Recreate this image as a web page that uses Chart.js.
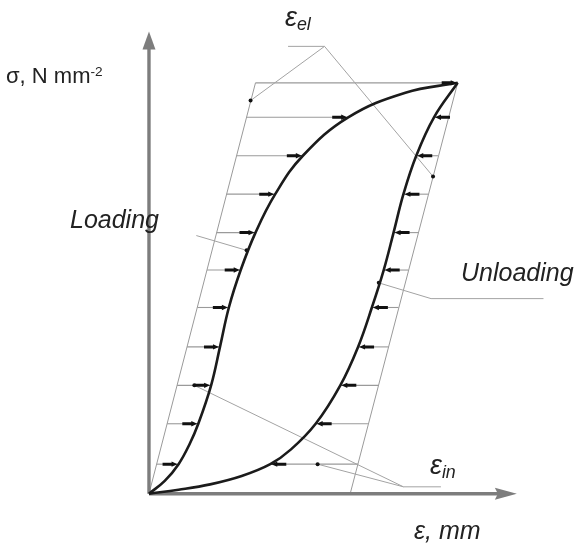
<!DOCTYPE html>
<html>
<head>
<meta charset="utf-8">
<script src="https://cdn.jsdelivr.net/npm/chart.js@4/dist/chart.umd.min.js"></script>
<style>
  html, body { margin: 0; padding: 0; background: #fff; }
  #wrap { position: relative; width: 582px; height: 546px; overflow: hidden; }
  canvas { position: absolute; left: 0; top: 0; }
  .lbl { position: absolute; font-family: "Liberation Sans", Arial, sans-serif; color: #222; white-space: nowrap; line-height: 1; }
  .it { font-style: italic; }
  sup { font-size: 0.62em; vertical-align: 0.55em; line-height: 0; }
  sub { font-size: 0.66em; vertical-align: -0.22em; line-height: 0; }
</style>
</head>
<body>
<div id="wrap">
  <canvas id="c" width="582" height="546"></canvas>
  <div class="lbl" style="left:6px; top:65px; font-size:22px;">σ, N mm<sup>-2</sup></div>
  <div class="lbl it" style="left:285px; top:4px; font-size:27px;">ε<sub>el</sub></div>
  <div class="lbl it" style="left:70px; top:207px; font-size:25px;">Loading</div>
  <div class="lbl it" style="left:461px; top:260px; font-size:25px;">Unloading</div>
  <div class="lbl it" style="left:430px; top:452px; font-size:27px;">ε<sub>in</sub></div>
  <div class="lbl it" style="left:414px; top:518px; font-size:25px;">ε, mm</div>
</div>
<script>
// Stress levels (σ) at which the strain split is marked
const sigmaLevels = [3.0, 7.1, 11.0, 14.9, 18.9, 22.7, 26.5, 30.4, 34.3, 38.2, 41.7];
// Strain on the elastic line through the origin, at each level
const elasticLeft = [0.78, 1.84, 2.85, 3.86, 4.90, 5.88, 6.86, 7.87, 8.88, 9.89, 10.8];
// Strain on the elastic line through the residual strain, at each level
const elasticRight = [21.2, 22.2, 23.3, 24.3, 25.3, 26.3, 27.3, 28.3, 29.3, 30.3, 31.3];
// Loading branch strain at each level
const loadingAtLevel = [3.0, 5.0, 6.3, 7.2, 8.1, 9.3, 10.8, 12.8, 15.6, 20.2, 31.3];
// Unloading branch strain at each level
const unloadingAtLevel = [12.3, 16.9, 19.4, 21.2, 22.6, 23.8, 24.8, 25.8, 27.1, 28.9, 31.3];

// Loading curve (ε, σ)
const loadingEps   = [0, 1.6, 3.0, 4.1, 5.0, 6.3, 7.2, 8.1, 9.3, 10.8, 12.8, 15.6, 20.2, 26.0, 31.3];
const loadingSigma = [0, 1.3, 3.0, 5.0, 7.1, 11.0, 14.9, 18.9, 22.7, 26.5, 30.4, 34.3, 38.2, 40.7, 41.7];
// Unloading curve (ε, σ)
const unloadingEps   = [0, 3.0, 6.2, 9.4, 12.3, 14.4, 16.9, 19.4, 21.2, 22.6, 23.8, 24.8, 25.8, 27.1, 28.9, 31.3];
const unloadingSigma = [0, 0.4, 0.95, 1.8, 3.0, 4.5, 7.1, 11.0, 14.9, 18.9, 22.7, 26.5, 30.4, 34.3, 38.2, 41.7];

// Axis extents
const axisTipEps = 37.3;
const axisTipSigma = 46.9;

const pts = (xs, ys) => xs.map((x, i) => ({ x, y: ys[i] }));
const seg = (x1, y1, x2, y2) => [{ x: x1, y: y1 }, { x: x2, y: y2 }];

const GRAY = '#9a9a9a';
const datasets = [];

// main curves
datasets.push({ data: pts(loadingEps, loadingSigma), borderColor: '#1b1b1b', borderWidth: 2.6,
  tension: 0.4, order: 0 });
datasets.push({ data: pts(unloadingEps, unloadingSigma), borderColor: '#1b1b1b', borderWidth: 2.6,
  tension: 0.4, order: 0 });

// elastic lines
const n = sigmaLevels.length;
datasets.push({ data: [{ x: 0, y: 0 }, { x: elasticLeft[n - 1], y: sigmaLevels[n - 1] }], borderColor: GRAY, borderWidth: 1, order: 5 });
datasets.push({ data: [{ x: 20.4, y: 0 }, { x: elasticRight[n - 1], y: sigmaLevels[n - 1] }], borderColor: GRAY, borderWidth: 1, order: 5 });

// horizontal strain segments
sigmaLevels.forEach((s, i) => {
  datasets.push({ data: seg(elasticLeft[i], s, loadingAtLevel[i], s), borderColor: GRAY, borderWidth: 1.1, order: 5 });
  if (elasticRight[i] - unloadingAtLevel[i] > 0.2) {
    datasets.push({ data: seg(unloadingAtLevel[i], s, elasticRight[i], s), borderColor: GRAY, borderWidth: 1.1, order: 5 });
  }
});

// leader lines
const leaders = [
  seg(14.1, 45.4, 17.8, 45.4), seg(17.8, 45.4, 10.3, 39.9), seg(17.8, 45.4, 28.8, 32.2),
  seg(4.8, 26.2, 9.9, 24.7),
  seg(40.0, 19.8, 28.6, 19.8), seg(28.6, 19.8, 23.3, 21.4),
  seg(29.6, 0.7, 25.8, 0.7), seg(25.8, 0.7, 4.6, 11.0), seg(25.8, 0.7, 17.1, 3.0)
];
leaders.forEach(d => datasets.push({ data: d, borderColor: '#a3a3a3', borderWidth: 1, order: 4 }));

// leader end dots
datasets.push({ data: [{ x: 10.3, y: 39.9 }, { x: 28.8, y: 32.2 }, { x: 9.9, y: 24.7 }, { x: 23.3, y: 21.4 }, { x: 4.6, y: 11.0 }, { x: 17.1, y: 3.0 }],
  showLine: false, pointRadius: 2, pointBackgroundColor: '#111', pointBorderWidth: 0, order: 1 });

// axes
datasets.push({ data: seg(0, 0, 0, axisTipSigma - 1.2), borderColor: '#7d7d7d', borderWidth: 3.4, order: 3 });
datasets.push({ data: seg(0, 0, axisTipEps - 1.2, 0), borderColor: '#7d7d7d', borderWidth: 3.4, order: 3 });

datasets.forEach(d => {
  d.showLine = d.showLine !== false;
  if (d.pointRadius === undefined) d.pointRadius = 0;
  d.fill = false;
  d.borderCapStyle = 'butt';
});

function polygon(ctx, points, color) {
  ctx.beginPath();
  ctx.moveTo(points[0][0], points[0][1]);
  for (let i = 1; i < points.length; i++) ctx.lineTo(points[i][0], points[i][1]);
  ctx.closePath();
  ctx.fillStyle = color;
  ctx.fill();
}

// small strain arrows: tip at (tx,ty), dir = +1 pointing right, -1 pointing left
function strainArrow(ctx, tx, ty, dir) {
  const head = 6, tail = 9, hw = 2.7, tw = 1.5;
  polygon(ctx, [
    [tx, ty],
    [tx - dir * head, ty - hw],
    [tx - dir * head, ty - tw],
    [tx - dir * (head + tail), ty - tw],
    [tx - dir * (head + tail), ty + tw],
    [tx - dir * head, ty + tw],
    [tx - dir * head, ty + hw]
  ], '#111');
}

const arrowPlugin = {
  id: 'arrowHeads',
  afterDatasetsDraw(chart) {
    const { ctx } = chart;
    const xs = chart.scales.x, ys = chart.scales.y;
    ctx.save();
    sigmaLevels.forEach((s, i) => {
      const py = ys.getPixelForValue(s);
      strainArrow(ctx, xs.getPixelForValue(loadingAtLevel[i]) - 1, py, 1);
      if (elasticRight[i] - unloadingAtLevel[i] > 0.2) {
        strainArrow(ctx, xs.getPixelForValue(unloadingAtLevel[i]) + 1, py, -1);
      }
    });
    // axis arrowheads
    const ox = xs.getPixelForValue(0), oy = ys.getPixelForValue(0);
    const ty = ys.getPixelForValue(axisTipSigma);
    polygon(ctx, [[ox, ty], [ox - 6.5, ty + 18], [ox + 6.5, ty + 18]], '#7d7d7d');
    const tx = xs.getPixelForValue(axisTipEps);
    polygon(ctx, [[tx, oy], [tx - 22, oy - 6], [tx - 19, oy], [tx - 22, oy + 6]], '#7d7d7d');
    ctx.restore();
  }
};

new Chart(document.getElementById('c'), {
  type: 'scatter',
  data: { datasets },
  options: {
    responsive: false,
    animation: false,
    events: [],
    layout: { padding: 0 },
    plugins: { legend: { display: false }, tooltip: { enabled: false } },
    scales: {
      x: { type: 'linear', display: false, min: -14.7, max: 43.5 },
      y: { type: 'linear', display: false, min: -4.9, max: 49.7 }
    }
  },
  plugins: [arrowPlugin]
});
</script>
</body>
</html>
